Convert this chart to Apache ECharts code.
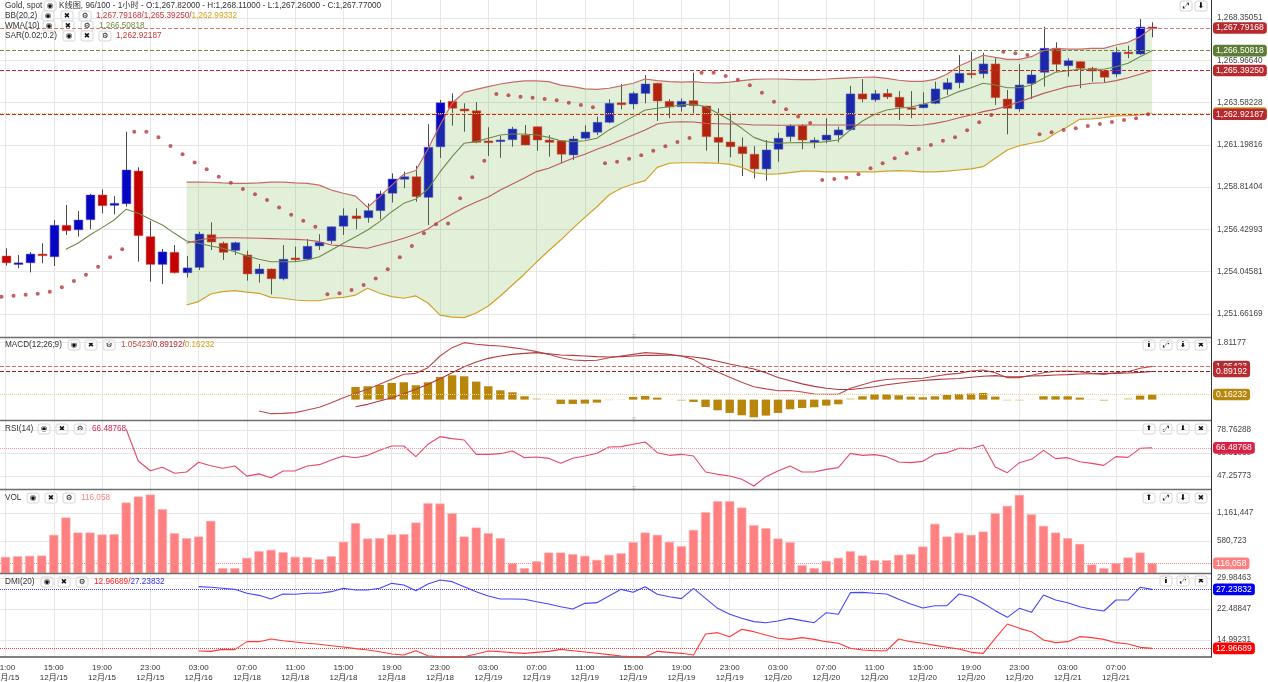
<!DOCTYPE html>
<html><head><meta charset="utf-8">
<script src="https://cdn.jsdelivr.net/npm/echarts@6/dist/echarts.min.js"></script>
<style>html,body{margin:0;padding:0;background:#fff}#c{width:1268px;height:682px}</style>
</head><body><div id="c"></div>
<script>
// ---------------- DATA ----------------
const slotCount = 100;
const tickTimes = ['11:00','15:00','19:00','23:00','03:00','07:00','11:00','15:00','19:00','23:00','03:00','07:00','11:00','15:00','19:00','23:00','03:00','07:00','11:00','15:00','19:00','23:00','03:00','07:00'];
const tickDates = ['12月/15','12月/15','12月/15','12月/15','12月/16','12月/18','12月/18','12月/18','12月/18','12月/18','12月/19','12月/19','12月/19','12月/19','12月/19','12月/19','12月/20','12月/20','12月/20','12月/20','12月/20','12月/20','12月/21','12月/21'];
const tickIndex = [0,4,8,12,16,20,24,28,32,36,40,44,48,52,56,60,64,68,72,76,80,84,88,92];

const priceTicks = [1251.66169,1254.04581,1256.42993,1258.81404,1261.19816,1263.58228,1265.96640,1268.35051];
const macdTicks = [1.81177];
const rsiTicks = [47.25773,63.01030,78.76288];
const volTicks = [580723,1161447];
const dmiTicks = [14.99231,22.48847,29.98463];

// [open, close, low, high]
const ohlc = [
[1254.93,1254.55,1254.39,1255.37],[1254.46,1254.54,1254.24,1254.99],[1254.55,1255.04,1254.01,1255.16],[1255.04,1254.95,1254.52,1255.65],
[1254.89,1256.66,1254.37,1256.96],[1256.66,1256.36,1256.12,1257.81],[1256.41,1256.96,1256.02,1257.47],[1256.98,1258.37,1256.44,1258.43],
[1258.37,1257.77,1257.34,1258.69],[1257.79,1257.90,1257.28,1258.31],[1257.88,1259.78,1257.71,1261.94],[1259.72,1256.08,1254.61,1259.93],
[1256.02,1254.46,1253.48,1256.91],[1254.46,1255.16,1253.35,1255.33],[1255.14,1253.99,1253.95,1255.55],[1253.99,1254.26,1253.71,1254.93],
[1254.29,1256.17,1254.14,1256.30],[1256.13,1255.72,1255.27,1256.83],[1255.65,1255.14,1254.71,1255.74],[1255.25,1255.68,1254.99,1255.74],
[1254.99,1253.92,1253.54,1255.23],[1253.93,1254.20,1253.43,1254.48],[1254.20,1253.65,1252.77,1254.22],[1253.65,1254.75,1253.56,1255.55],
[1254.82,1254.72,1254.61,1255.46],[1254.76,1255.48,1254.71,1255.89],[1255.50,1255.70,1255.27,1256.16],[1255.79,1256.58,1255.61,1256.60],
[1256.61,1257.20,1256.12,1257.62],[1257.19,1257.04,1256.44,1257.62],[1257.09,1257.49,1256.81,1257.90],[1257.49,1258.43,1257.00,1258.61],
[1258.47,1259.27,1257.94,1259.59],[1259.26,1259.40,1258.75,1259.69],[1259.40,1258.28,1257.99,1260.01],[1258.24,1261.06,1256.68,1262.37],
[1261.09,1263.57,1260.46,1263.73],[1263.65,1263.26,1262.28,1264.10],[1263.22,1263.11,1261.94,1263.54],[1263.12,1261.34,1261.29,1263.61],
[1261.42,1261.32,1260.57,1262.19],[1261.38,1261.47,1260.47,1261.70],[1261.49,1262.09,1261.09,1262.22],[1261.75,1261.19,1261.17,1262.32],
[1262.22,1261.47,1260.87,1262.24],[1261.47,1261.34,1260.53,1261.75],[1261.43,1260.67,1260.16,1261.45],[1260.63,1261.53,1260.34,1261.70],
[1261.57,1261.92,1261.50,1262.30],[1261.91,1262.47,1261.75,1262.79],[1262.47,1263.54,1262.41,1263.77],[1263.57,1263.46,1263.20,1264.63],
[1263.50,1264.10,1263.20,1264.20],[1264.10,1264.63,1263.54,1265.14],[1264.67,1263.67,1262.54,1264.70],[1263.65,1263.33,1262.70,1263.77],
[1263.35,1263.65,1263.07,1263.82],[1263.69,1263.41,1262.98,1265.27],[1263.39,1261.66,1260.87,1263.40],[1261.62,1261.34,1260.19,1263.26],
[1261.36,1261.09,1260.50,1263.03],[1261.09,1260.70,1259.44,1261.62],[1260.67,1259.84,1259.31,1261.13],[1259.84,1260.91,1259.18,1261.47],
[1260.95,1261.57,1260.25,1261.88],[1261.66,1262.26,1261.38,1262.37],[1262.28,1261.47,1260.95,1262.37],[1261.34,1261.46,1261.00,1261.62],
[1261.47,1261.75,1261.29,1262.70],[1261.75,1262.04,1261.34,1262.22],[1262.05,1264.07,1262.00,1264.52],[1264.07,1263.78,1263.60,1264.91],
[1263.74,1264.08,1263.63,1264.29],[1264.10,1263.90,1263.78,1264.35],[1263.88,1263.32,1262.60,1264.23],[1263.29,1263.20,1262.70,1264.23],
[1263.29,1263.49,1263.26,1264.16],[1263.54,1264.35,1263.49,1264.76],[1264.33,1264.70,1264.01,1264.95],[1264.70,1265.23,1264.39,1266.26],
[1265.23,1265.15,1264.95,1266.45],[1265.21,1265.76,1264.95,1266.39],[1265.76,1263.86,1263.45,1266.08],[1263.78,1263.26,1261.79,1264.29],
[1263.22,1264.57,1263.07,1265.76],[1264.65,1265.14,1263.78,1265.42],[1265.29,1266.64,1264.48,1267.86],[1266.64,1265.74,1265.29,1266.98],
[1265.66,1265.94,1265.04,1266.08],[1265.89,1265.51,1264.39,1265.90],[1265.51,1265.36,1264.76,1265.60],[1265.38,1265.01,1264.70,1265.39],
[1265.19,1266.42,1265.01,1266.70],[1266.42,1266.34,1266.08,1266.79],[1266.32,1267.84,1266.26,1268.29],[1267.82,1267.77,1267.26,1268.11]
];

const sar = [1252.64,1252.69,1252.75,1252.81,1252.92,1253.17,1253.52,1253.88,1254.33,1254.86,
1255.31,1261.94,1261.94,1261.62,1261.13,1260.67,1260.21,1259.82,1259.40,1259.06,
1258.71,1258.41,1258.09,1257.66,1257.26,1256.92,1256.58,1252.77,1252.83,1253.02,
1253.30,1253.67,1254.18,1254.86,1255.50,1256.21,1256.72,1256.76,1258.19,1259.37,
1260.30,1264.07,1263.99,1263.91,1263.86,1263.78,1263.71,1263.57,1263.45,1263.32,
1260.16,1260.25,1260.42,1260.61,1260.87,1261.12,1261.36,1261.59,1265.27,1265.27,
1265.08,1264.87,1264.56,1264.14,1263.63,1263.20,1262.79,1262.43,1259.22,1259.27,
1259.35,1259.54,1259.88,1260.16,1260.44,1260.72,1260.96,1261.19,1261.43,1261.62,
1262.02,1262.47,1262.88,1266.45,1266.36,1266.26,1261.79,1261.91,1262.04,1262.13,
1262.26,1262.37,1262.49,1262.60,1262.70,1262.92187];

const bbStart = 15;
const bbUpper = [1259.10,1259.10,1259.09,1259.05,1259.03,1259.03,1259.05,1259.10,1259.10,1259.06,
1259.03,1258.93,1258.65,1258.47,1258.31,1257.68,1258.28,1258.93,1259.54,1259.75,
1260.96,1262.32,1263.54,1264.16,1264.33,1264.48,1264.63,1264.73,1264.80,1264.80,
1264.76,1264.57,1264.48,1264.35,1264.33,1264.39,1264.52,1264.67,1264.91,1264.82,
1264.76,1264.74,1264.76,1264.70,1264.69,1264.74,1264.82,1264.89,1264.91,1264.91,
1264.89,1264.88,1264.88,1264.91,1264.95,1264.98,1265.01,1265.02,1264.95,1264.84,
1264.78,1264.78,1264.89,1265.18,1265.64,1265.94,1266.25,1266.13,1266.02,1266.02,
1266.17,1266.51,1266.64,1266.59,1266.59,1266.64,1266.64,1266.83,1266.98,1267.30,
1267.79168];
const bbMiddle = [1255.65,1255.83,1255.93,1255.96,1255.96,1255.95,1255.93,1255.91,1255.89,1255.87,
1255.83,1255.74,1255.55,1255.50,1255.42,1255.37,1255.55,1255.74,1255.93,1256.17,
1256.45,1256.91,1257.30,1257.67,1257.98,1258.26,1258.65,1258.99,1259.33,1259.69,
1259.88,1260.16,1260.44,1260.67,1260.95,1261.19,1261.47,1261.75,1262.04,1262.37,
1262.47,1262.50,1262.49,1262.41,1262.39,1262.37,1262.37,1262.32,1262.32,1262.30,
1262.30,1262.32,1262.32,1262.32,1262.32,1262.32,1262.32,1262.32,1262.32,1262.32,
1262.29,1262.32,1262.41,1262.54,1262.73,1262.88,1263.07,1263.20,1263.39,1263.63,
1263.86,1264.10,1264.29,1264.48,1264.57,1264.67,1264.70,1264.82,1264.98,1265.18,
1265.39250];
const bbLower = [1252.17,1252.36,1252.79,1252.92,1252.98,1252.89,1252.83,1252.60,1252.55,1252.45,
1252.41,1252.41,1252.55,1252.60,1252.73,1253.11,1252.83,1252.64,1252.55,1252.68,
1252.28,1251.60,1251.49,1251.46,1251.72,1252.11,1252.68,1253.30,1253.92,1254.59,
1255.23,1255.83,1256.49,1257.11,1257.71,1258.37,1258.75,1258.99,1259.18,1259.93,
1260.16,1260.19,1260.19,1260.18,1260.16,1260.10,1259.93,1259.63,1259.54,1259.56,
1259.63,1259.72,1259.72,1259.68,1259.68,1259.68,1259.68,1259.68,1259.72,1259.74,
1259.72,1259.68,1259.68,1259.72,1259.78,1259.84,1259.97,1260.44,1260.91,1261.15,
1261.29,1261.42,1261.85,1262.22,1262.64,1262.66,1262.73,1262.83,1262.84,1262.88,
1262.99332];

const wmaStart = 5;
const wma = [1255.31,1255.65,1256.12,1256.53,1256.96,1257.57,1257.34,1257.00,1256.68,1256.21,
1255.78,1255.65,1255.50,1255.37,1255.17,1254.93,1254.75,1254.61,1254.61,1254.61,
1254.71,1254.89,1255.27,1255.65,1256.02,1256.40,1256.87,1257.43,1257.90,1258.15,
1258.71,1259.67,1260.53,1261.29,1261.38,1261.57,1261.75,1261.81,1261.81,1261.75,
1261.62,1261.43,1261.38,1261.43,1261.57,1262.04,1262.41,1262.79,1263.16,1263.26,
1263.35,1263.45,1263.50,1263.35,1262.98,1262.60,1262.13,1261.62,1261.38,1261.29,
1261.32,1261.33,1261.32,1261.38,1261.47,1262.04,1262.54,1262.92,1263.16,1263.26,
1263.33,1263.49,1263.67,1263.91,1264.20,1264.42,1264.67,1264.57,1264.42,1264.42,
1264.57,1264.95,1265.29,1265.38,1265.46,1265.46,1265.46,1265.60,1265.80,1266.17,
1266.50818];

const macdStart = 21;
const macdLine = [-0.361,-0.446,-0.436,-0.414,-0.330,-0.245,-0.097,0.062,0.199,0.326,
0.485,0.644,0.804,0.834,1.014,1.384,1.649,1.808,1.755,1.723,
1.702,1.649,1.596,1.522,1.437,1.331,1.257,1.236,1.247,1.331,
1.384,1.437,1.490,1.469,1.437,1.384,1.278,1.050,0.880,0.710,
0.550,0.410,0.340,0.280,0.290,0.240,0.180,0.170,0.170,0.360,
0.470,0.580,0.640,0.660,0.660,0.680,0.740,0.800,0.834,0.908,
0.940,0.855,0.697,0.697,0.771,0.855,0.898,0.908,0.887,0.834,
0.802,0.855,0.887,0.993,1.05423];
const sigStart = 29;
const macdSignal = [-0.224,-0.150,-0.044,0.062,0.189,0.326,0.485,0.665,0.855,1.046,
1.194,1.310,1.384,1.437,1.469,1.490,1.458,1.416,1.405,1.384,
1.363,1.352,1.363,1.384,1.405,1.405,1.416,1.384,1.352,1.300,
1.220,1.130,1.050,0.970,0.850,0.700,0.600,0.500,0.420,0.360,
0.320,0.320,0.360,0.410,0.470,0.520,0.565,0.605,0.635,0.655,
0.670,0.710,0.740,0.760,0.728,0.728,0.749,0.760,0.781,0.792,
0.813,0.823,0.834,0.834,0.845,0.866,0.89192];
const macdHist = [0.402,0.423,0.466,0.529,0.550,0.455,0.550,0.719,0.772,0.741,
0.571,0.423,0.296,0.233,0.106,0.042,-0.010,-0.138,-0.138,-0.127,
-0.095,-0.020,0.010,0.085,0.116,0.063,0.005,-0.040,-0.074,-0.233,
-0.339,-0.423,-0.497,-0.561,-0.508,-0.423,-0.307,-0.265,-0.243,-0.190,
-0.148,0.042,0.106,0.169,0.169,0.138,0.095,0.074,0.106,0.148,
0.180,0.190,0.212,0.095,-0.030,-0.030,-0.005,0.106,0.106,0.106,
0.063,-0.010,-0.042,0.000,0.042,0.127,0.16232];

const rsiStart = 10;
const rsi = [79.24,57.53,50.89,53.22,49.11,50.00,56.64,54.31,52.53,54.11,
47.15,48.70,46.10,50.68,50.80,54.11,55.02,58.22,60.95,59.81,
61.41,64.84,67.80,67.80,60.50,68.95,74.20,72.83,71.91,62.10,
62.10,62.55,64.38,59.81,60.27,59.36,55.93,59.36,60.95,62.78,
67.12,67.35,68.95,70.55,63.24,61.41,62.10,60.95,50.00,48.40,
47.26,44.97,40.41,46.80,50.68,54.11,50.00,50.00,51.82,52.97,
62.78,61.41,61.87,60.50,56.85,56.39,57.30,62.10,63.24,66.21,
65.98,68.49,53.42,49.54,56.39,58.67,64.84,59.13,59.81,57.07,
55.93,54.56,60.50,60.04,66.21,66.48768];

const volume = [245000,259000,266000,273000,702000,1061000,750000,750000,709000,716000,
1372000,1497000,1538000,1234000,736000,633000,667000,992000,12000,12000,
225000,363000,391000,342000,245000,239000,197000,259000,557000,944000,
626000,633000,709000,716000,958000,1358000,1352000,1151000,667000,854000,
736000,633000,114000,12000,156000,335000,335000,301000,266000,183000,
287000,321000,550000,750000,702000,557000,467000,805000,1172000,1400000,
1400000,1269000,902000,840000,626000,550000,73000,12000,162000,225000,
363000,273000,176000,176000,287000,301000,460000,930000,667000,743000,
702000,771000,1151000,1303000,1531000,1130000,888000,750000,633000,515000,
86000,12000,114000,232000,335000,116058];

const dmiStart = 16;
const dmiPlus = [27.89,27.73,27.49,27.24,26.28,25.79,24.90,26.12,26.04,26.28,
26.28,26.68,27.49,27.08,27.08,27.49,28.69,28.29,26.92,28.53,
29.50,29.10,27.89,26.68,25.63,24.90,24.90,24.83,24.26,23.70,
23.05,22.49,23.86,24.02,25.63,27.24,26.52,27.89,26.04,25.47,
24.99,27.49,25.07,22.65,21.20,20.23,19.43,19.18,19.59,20.23,
19.67,19.18,21.60,21.20,26.44,26.52,26.28,26.12,24.83,23.70,
22.73,23.29,23.29,26.12,25.47,23.86,22.09,20.47,22.65,21.68,
25.87,24.66,24.02,23.05,22.41,22.00,24.66,24.66,27.73,27.23832];
const dmiMinus = [12.33,12.25,12.73,12.66,14.59,14.59,15.23,14.83,14.51,14.19,
13.95,13.62,13.30,12.90,12.57,12.17,11.61,11.36,12.41,11.20,
10.95,10.90,10.96,11.61,12.33,12.17,11.93,11.77,12.01,12.25,
12.73,12.41,12.09,11.77,11.45,11.12,10.96,10.90,12.25,12.01,
11.77,11.36,16.44,16.77,15.80,17.57,17.01,16.20,15.40,15.15,
15.56,15.15,14.59,14.19,12.98,12.57,12.41,12.41,15.23,14.59,
14.19,13.70,13.22,12.82,12.01,11.77,15.40,18.86,17.81,17.01,
14.99,14.35,14.59,15.80,15.56,15.15,14.35,14.03,13.22,12.96689];

// ---------------- HELPERS ----------------
const FONT = '"Liberation Sans", "Noto Sans CJK SC", sans-serif';
const FS = 8.2;
const f5 = v => Number(v).toLocaleString('en-US',{minimumFractionDigits:5,maximumFractionDigits:5});
const f0 = v => Math.round(v).toLocaleString('en-US');
const last = a => a[a.length-1];
const pairs = (start, arr) => arr.map((v,k) => [start+k, v]);

const X_MIN = -0.4557, X_MAX = 99.876;
const gridsPx = [
  {top:0, height:337}, {top:338, height:82}, {top:421, height:68}, {top:490, height:83}, {top:574, height:83}
];
const yRanges = [[1250.365,1269.365],[-0.6471,1.9556],[38.354,84.927],[-82953,1638467],[10.882,30.952]];
const yTicks = [priceTicks, macdTicks, rsiTicks, volTicks, dmiTicks];
const yFmt = [f5, f5, f5, f0, f5];

function mk(val, lineColor, boxColor, type, fmt) {
  return {
    silent: true, symbol: ['none','none'], animation: false,
    data: [{ yAxis: val }],
    lineStyle: { color: lineColor, type: type, width: 1 },
    label: { show: true, position: 'end', distance: 2, formatter: fmt(val), color: '#fff',
      backgroundColor: boxColor, padding: [2,3,1,3], borderRadius: 3, fontSize: 8.6, fontFamily: FONT },
    emphasis: { disabled: true }
  };
}

const xAxes = gridsPx.map((g, gi) => ({
  type: 'value', gridIndex: gi, min: X_MIN, max: X_MAX,
  axisLine: { show: gi === 4, onZero: false, lineStyle: { color: '#555', width: 1.5 } },
  axisTick: { show: false, customValues: tickIndex },
  axisLabel: { show: gi === 4, customValues: tickIndex, fontSize: 8, color: '#333', fontFamily: FONT,
    lineHeight: 10, margin: 6,
    formatter: v => { const k = tickIndex.indexOf(Math.round(v)); return k < 0 ? '' : tickTimes[k] + '\n' + tickDates[k]; } },
  splitLine: { show: true, lineStyle: { color: '#e7e7e7', width: 1 } }
}));

const yAxes = gridsPx.map((g, gi) => ({
  type: 'value', gridIndex: gi, position: 'right', min: yRanges[gi][0], max: yRanges[gi][1],
  axisLine: { show: true, onZero: false, lineStyle: { color: '#333', width: 1 } },
  axisTick: { show: false, customValues: yTicks[gi] },
  axisLabel: { customValues: yTicks[gi], formatter: yFmt[gi], fontSize: FS, color: '#444', fontFamily: FONT, margin: 6 },
  splitLine: { show: true, lineStyle: { color: '#e7e7e7', width: 1 } }
}));

function renderCandle(params, api) {
  const i = api.value(0), o = api.value(1), c = api.value(2), l = api.value(3), h = api.value(4);
  const pO = api.coord([i, o]), pC = api.coord([i, c]), pL = api.coord([i, l]), pH = api.coord([i, h]);
  const w = api.size([1, 0])[0] * 0.72;
  const up = c >= o;
  const x = Math.round(pO[0]) + 0.5;
  let top = Math.min(pO[1], pC[1]), hh = Math.abs(pO[1] - pC[1]);
  if (hh < 1.6) { top -= (1.6 - hh) / 2; hh = 1.6; }
  return { type: 'group', children: [
    { type: 'line', shape: { x1: x, y1: pH[1], x2: x, y2: pL[1] }, style: { stroke: '#4a4a4a', lineWidth: 1 } },
    { type: 'rect', shape: { x: x - w / 2, y: top, width: w, height: hh },
      style: { fill: up ? '#0606c2' : '#c40000', stroke: up ? '#4a4ad8' : '#d84a4a', lineWidth: 0.5 } }
  ]};
}

function renderBand(params, api) {
  const pts = [];
  for (let k = 0; k < bbUpper.length; k++) pts.push(api.coord([bbStart + k, bbUpper[k]]));
  for (let k = bbLower.length - 1; k >= 0; k--) pts.push(api.coord([bbStart + k, bbLower[k]]));
  return { type: 'polygon', shape: { points: pts }, style: { fill: 'rgba(110,180,70,0.2)' } };
}

function renderVol(params, api) {
  const p = api.coord([api.value(0), api.value(1)]);
  const bottom = params.coordSys.y + params.coordSys.height;
  const w = 8.6;
  return { type: 'rect', shape: { x: p[0] - w / 2, y: p[1], width: w, height: bottom - p[1] },
    style: { fill: '#ff8080', stroke: '#ffb0b0', lineWidth: 0.6 } };
}

const lineBase = { type: 'line', showSymbol: false, symbol: 'none', animation: false, clip: false, silent: true };

const series = [
  { type: 'custom', name: 'K', xAxisIndex: 0, yAxisIndex: 0, z: 2, animation: false, silent: true,
    renderItem: renderCandle, encode: { x: 0, y: [1,2,3,4] },
    data: ohlc.map((d, i) => [i, d[0], d[1], d[2], d[3]]) },
  { type: 'custom', name: 'band', xAxisIndex: 0, yAxisIndex: 0, z: 3, animation: false, silent: true,
    renderItem: renderBand, data: [[bbStart, bbUpper[0]]] },
  Object.assign({}, lineBase, { name: 'upper', xAxisIndex: 0, yAxisIndex: 0, z: 4, data: pairs(bbStart, bbUpper),
    lineStyle: { color: '#c96a6a', width: 1.2 }, markLine: mk(last(bbUpper), '#cf7c7c', '#b8282d', 'dashed', f5) }),
  Object.assign({}, lineBase, { name: 'wma', xAxisIndex: 0, yAxisIndex: 0, z: 4, data: pairs(wmaStart, wma),
    lineStyle: { color: '#71894a', width: 1.1 }, markLine: mk(last(wma), '#6e8b3d', '#5d7c34', 'dashed', f5) }),
  Object.assign({}, lineBase, { name: 'middle', xAxisIndex: 0, yAxisIndex: 0, z: 4, data: pairs(bbStart, bbMiddle),
    lineStyle: { color: '#bd5a5a', width: 1.1 }, markLine: mk(last(bbMiddle), '#c82828', '#b8282d', 'dashed', f5) }),
  Object.assign({}, lineBase, { name: 'lower', xAxisIndex: 0, yAxisIndex: 0, z: 4, data: pairs(bbStart, bbLower),
    lineStyle: { color: '#d2a12a', width: 1.2 }, markLine: mk(last(bbLower), '#e6c877', '#c8a020', 'dotted', f5) }),
  { type: 'scatter', name: 'sar', xAxisIndex: 0, yAxisIndex: 0, z: 5, animation: false, silent: true, clip: false,
    symbolSize: 4, symbolOffset: [-4, 0], itemStyle: { color: '#b23a3a' }, data: sar.map((v, i) => [i, v]),
    markLine: mk(last(sar), '#c82828', '#b8282d', 'dashed', f5) },

  { type: 'bar', name: 'hist', xAxisIndex: 1, yAxisIndex: 1, z: 2, animation: false, silent: true, barWidth: 8.4,
    data: pairs(sigStart, macdHist),
    itemStyle: { color: p => Math.abs(p.value[1]) < 0.045 ? '#e3cf9b' : '#b8860b' },
    markLine: mk(last(macdHist), '#ead594', '#b8860b', 'dotted', f5) },
  Object.assign({}, lineBase, { name: 'macd', xAxisIndex: 1, yAxisIndex: 1, z: 4, data: pairs(macdStart, macdLine),
    lineStyle: { color: '#bf4a4a', width: 1.1 }, markLine: mk(last(macdLine), '#d46a6a', '#a83232', 'dashed', f5) }),
  Object.assign({}, lineBase, { name: 'signal', xAxisIndex: 1, yAxisIndex: 1, z: 4, data: pairs(sigStart, macdSignal),
    lineStyle: { color: '#b03a42', width: 1.1 }, markLine: mk(last(macdSignal), '#a01c1c', '#bb2a2e', 'dashed', f5) }),

  Object.assign({}, lineBase, { name: 'rsi', xAxisIndex: 2, yAxisIndex: 2, z: 4, data: pairs(rsiStart, rsi),
    lineStyle: { color: '#e6496a', width: 1.1 }, markLine: mk(last(rsi), '#f29aaa', '#dc1f45', 'dotted', f5) }),

  { type: 'custom', name: 'vol', xAxisIndex: 3, yAxisIndex: 3, z: 2, animation: false, silent: true, clip: false,
    renderItem: renderVol, encode: { x: 0, y: 1 }, data: volume.map((v, i) => [i, v]),
    markLine: mk(last(volume), '#ff8a8a', '#ff7f7f', 'dotted', f0) },

  Object.assign({}, lineBase, { name: 'dmiPlus', xAxisIndex: 4, yAxisIndex: 4, z: 4, data: pairs(dmiStart, dmiPlus),
    lineStyle: { color: '#4646ff', width: 1.1 }, markLine: mk(last(dmiPlus), '#4646ff', '#0000ee', 'dotted', f5) }),
  Object.assign({}, lineBase, { name: 'dmiMinus', xAxisIndex: 4, yAxisIndex: 4, z: 4, data: pairs(dmiStart, dmiMinus),
    lineStyle: { color: '#ff3a3a', width: 1.1 }, markLine: mk(last(dmiMinus), '#ff4040', '#ff0000', 'dotted', f5) })
];

// ---------------- GRAPHIC (headers, icons, separators) ----------------
const G = [];
function txt(x, y, text, color, size) {
  G.push({ type: 'text', x, y, z: 50, silent: true, style: { text, fill: color || '#333', fontSize: size || FS, fontFamily: FONT, verticalAlign: 'middle' } });
}
function rich(x, y, parts) {
  const rs = {}; let s = '';
  parts.forEach((p, k) => { rs['p' + k] = { fill: p[1], fontSize: FS, fontFamily: FONT }; s += '{p' + k + '|' + p[0] + '}'; });
  G.push({ type: 'text', x, y, z: 50, silent: true, style: { text: s, rich: rs, fontSize: FS, fontFamily: FONT, verticalAlign: 'middle' } });
}
function icon(x, yc, glyph, size) {
  G.push({ type: 'group', x, y: yc - 5, z: 50, silent: true, children: [
    { type: 'rect', shape: { x: 0, y: 0, width: 12, height: 10, r: 2 }, style: { fill: '#fff', stroke: '#d6d6d6', lineWidth: 1 } },
    { type: 'text', x: 6, y: 5.3, style: { text: glyph, align: 'center', verticalAlign: 'middle', fontSize: size || 7.5, fill: '#111', fontFamily: '"DejaVu Sans", sans-serif' } }
  ]});
}
const EYE = '◉', X = '✖', GEAR = '⚙';
const lc = ohlc[ohlc.length - 1];
txt(5, 6, 'Gold, spot');
icon(44, 6, EYE);
txt(59, 6, 'K线图, ' + ohlc.length + '/' + slotCount + ' - 1小时 - O:' + f5(lc[0]) + ' - H:' + f5(lc[3]) + ' - L:' + f5(lc[2]) + ' - C:' + f5(lc[1]));
txt(5, 16, 'BB(20,2)'); icon(42, 16, EYE); icon(61, 16, X); icon(79, 16, GEAR);
rich(96, 16, [[f5(last(bbUpper)) + '/' + f5(last(bbMiddle)) + '/', '#cc3636'], [f5(last(bbLower)), '#d4a017']]);
txt(5, 26, 'WMA(10)'); icon(43, 26, EYE); icon(62, 26, X); icon(81, 26, GEAR);
txt(99, 26, f5(last(wma)), '#6e8b3d');
txt(5, 36, 'SAR(0.02;0.2)'); icon(63, 36, EYE); icon(81, 36, X); icon(99, 36, GEAR);
txt(116, 36, f5(last(sar)), '#cc3636');

txt(5, 345, 'MACD(12;26;9)'); icon(68, 345, EYE); icon(85, 345, X); icon(103, 345, GEAR);
rich(121, 345, [[f5(last(macdLine)) + '/', '#c0504a'], [f5(last(macdSignal)) + '/', '#b8282d'], [f5(last(macdHist)), '#d4a017']]);
txt(5, 429, 'RSI(14)'); icon(38, 429, EYE); icon(56, 429, X); icon(74, 429, GEAR);
txt(92, 429, f5(last(rsi)), '#dc1f45');
txt(5, 498, 'VOL'); icon(27, 498, EYE); icon(45, 498, X); icon(63, 498, GEAR);
txt(81, 498, f0(last(volume)), '#ff8080');
txt(5, 582, 'DMI(20)'); icon(41, 582, EYE); icon(58, 582, X); icon(76, 582, GEAR);
rich(94, 582, [[f5(last(dmiMinus)) + '/', '#ff2020'], [f5(last(dmiPlus)), '#3030ff']]);

// panel control icons
icon(1180, 6, '⤢', 8); icon(1195, 6, '⬇', 8);
[[345, true], [429, true], [498, true], [581, false]].forEach(([y, down]) => {
  if (down) { icon(1143, y, '⬆', 8); icon(1160, y, '⤢', 8); icon(1177, y, '⬇', 8); icon(1195, y, X, 7.5); }
  else { icon(1160, y, '⬆', 8); icon(1177, y, '⤢', 8); icon(1195, y, X, 7.5); }
});
// panel separators
[337.5, 420.5, 489.5, 573.5].forEach(y => {
  G.push({ type: 'line', z: 40, silent: true, shape: { x1: 0, y1: y, x2: 1211, y2: y }, style: { stroke: '#6e6e6e', lineWidth: 1.5 } });
  G.push({ type: 'text', x: 634, y: y, z: 41, silent: true, style: { text: '⠿', fill: '#999', fontSize: 6, align: 'center', verticalAlign: 'middle', fontFamily: '"DejaVu Sans", sans-serif' } });
});
G.push({ type: 'line', z: 40, silent: true, shape: { x1: 1211.5, y1: 0, x2: 1211.5, y2: 657 }, style: { stroke: '#333', lineWidth: 1 } });

const option = {
  animation: false,
  backgroundColor: '#fff',
  textStyle: { fontFamily: FONT },
  grid: gridsPx.map(g => ({ left: 0, top: g.top, width: 1211, height: g.height, containLabel: false, outerBoundsMode: 'none' })),
  xAxis: xAxes,
  yAxis: yAxes,
  series: series,
  graphic: G
};

const chart = echarts.init(document.getElementById('c'), null, { renderer: 'canvas' });
chart.setOption(option);
</script></body></html>
